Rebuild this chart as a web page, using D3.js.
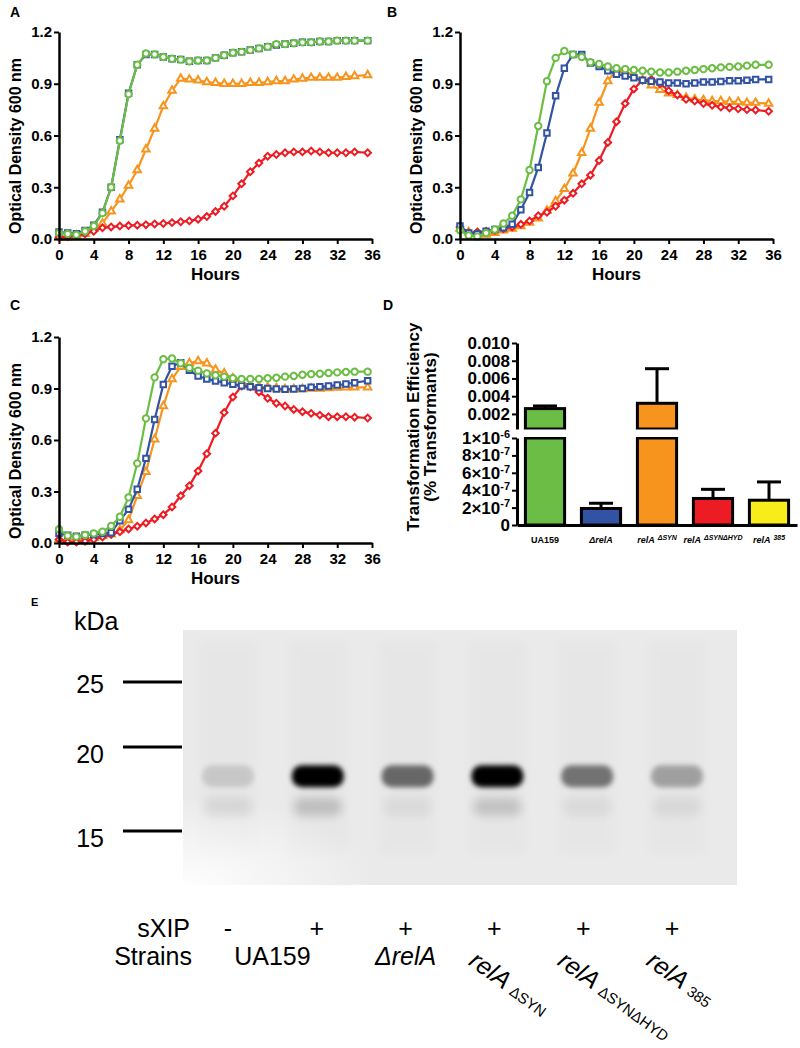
<!DOCTYPE html>
<html>
<head>
<meta charset="utf-8">
<script src="https://cdn.jsdelivr.net/npm/d3@7"></script>
<style>
  body { margin: 0; background: #fff; }
  svg { display: block; }
</style>
</head>
<body>
<svg id="fig" width="800" height="1048"></svg>
<script>
// ---------- data ----------
const hours = [0,1,2,3,4,5,6,7,8,9,10,11,12,13,14,15,16,17,18,19,20,21,22,23,24,25,26,27,28,29,30,31,32,33,34,35.5];
const hourTicks = [0,4,8,12,16,20,24,28,32,36];
const odTicks = [0,0.3,0.6,0.9,1.2];

// panel A
const odA_UA159 = [0.035,0.03,0.025,0.045,0.075,0.15,0.30,0.57,0.84,1.01,1.075,1.07,1.055,1.045,1.04,1.03,1.035,1.035,1.05,1.065,1.08,1.085,1.095,1.105,1.115,1.13,1.13,1.135,1.14,1.14,1.145,1.145,1.15,1.15,1.15,1.15];
const odA_relA = [0.04,0.035,0.03,0.05,0.08,0.155,0.30,0.575,0.845,1.01,1.07,1.07,1.055,1.045,1.04,1.03,1.035,1.035,1.05,1.065,1.08,1.085,1.095,1.105,1.115,1.125,1.13,1.135,1.14,1.14,1.145,1.145,1.15,1.15,1.15,1.15];
const odA_SYN = [0.01,0.01,0.02,0.03,0.06,0.09,0.16,0.23,0.31,0.40,0.52,0.64,0.77,0.86,0.93,0.925,0.92,0.91,0.905,0.90,0.90,0.90,0.905,0.905,0.91,0.915,0.915,0.925,0.93,0.935,0.935,0.935,0.935,0.94,0.945,0.95];
const odA_SYNHYD = [0.01,0.015,0.02,0.03,0.045,0.065,0.07,0.075,0.078,0.08,0.083,0.087,0.09,0.095,0.10,0.105,0.115,0.13,0.16,0.19,0.25,0.32,0.39,0.44,0.48,0.49,0.50,0.505,0.505,0.51,0.505,0.50,0.50,0.50,0.505,0.50];

// panel B
const odB_UA159 = [0.05,0.02,0.015,0.035,0.055,0.09,0.135,0.23,0.40,0.655,0.915,1.05,1.09,1.07,1.055,1.025,1.015,1.00,0.99,0.985,0.98,0.975,0.97,0.965,0.965,0.97,0.975,0.98,0.985,0.99,0.995,0.998,1.00,1.005,1.01,1.01];
const odB_relA = [0.075,0.035,0.03,0.045,0.055,0.065,0.085,0.17,0.27,0.415,0.615,0.83,0.99,1.07,1.07,1.02,1.00,0.975,0.955,0.945,0.935,0.92,0.915,0.91,0.905,0.905,0.90,0.905,0.91,0.91,0.913,0.917,0.918,0.92,0.925,0.925];
const odB_SYN = [0.06,0.04,0.03,0.025,0.035,0.05,0.06,0.075,0.095,0.12,0.165,0.22,0.29,0.38,0.50,0.64,0.79,0.915,0.98,0.97,0.95,0.92,0.89,0.865,0.845,0.835,0.82,0.81,0.805,0.80,0.80,0.795,0.795,0.79,0.79,0.785];
const odB_SYNHYD = [0.07,0.035,0.04,0.045,0.05,0.06,0.07,0.085,0.105,0.135,0.155,0.19,0.225,0.265,0.32,0.37,0.455,0.56,0.68,0.785,0.87,0.92,0.925,0.90,0.86,0.835,0.81,0.80,0.785,0.775,0.765,0.76,0.755,0.75,0.748,0.74];

// panel C
const odC_UA159 = [0.08,0.043,0.037,0.047,0.056,0.066,0.099,0.153,0.266,0.464,0.726,0.965,1.07,1.075,1.047,1.02,1.004,0.988,0.977,0.969,0.96,0.955,0.955,0.955,0.96,0.963,0.969,0.973,0.98,0.984,0.986,0.99,0.994,0.996,0.998,0.998];
const odC_relA = [0.056,0.045,0.04,0.045,0.05,0.055,0.06,0.13,0.196,0.313,0.493,0.72,0.923,1.03,1.05,1.006,0.973,0.955,0.944,0.934,0.924,0.916,0.91,0.905,0.90,0.897,0.895,0.897,0.90,0.907,0.91,0.914,0.92,0.926,0.934,0.945];
const odC_SYN = [0.02,0.015,0.02,0.025,0.03,0.04,0.05,0.075,0.134,0.275,0.415,0.604,0.798,0.955,1.026,1.048,1.06,1.047,1.01,0.988,0.96,0.934,0.92,0.91,0.907,0.903,0.897,0.897,0.897,0.90,0.90,0.903,0.905,0.907,0.907,0.907];
const odC_SYNHYD = [0.02,0.005,0.005,0.01,0.02,0.035,0.05,0.065,0.082,0.098,0.117,0.14,0.165,0.21,0.275,0.334,0.42,0.52,0.64,0.76,0.85,0.914,0.91,0.88,0.843,0.814,0.798,0.778,0.765,0.755,0.745,0.736,0.736,0.736,0.733,0.728];

// panel D
const barKeys = ["UA159", "ΔrelA", "relA ΔSYN", "relA ΔSYNΔHYD", "relA 385"];
const barNames = ["UA159", "ΔrelA", "relA", "relA", "relA"];
const barSups = ["", "", "ΔSYN", "ΔSYNΔHYD", "385"];
const barValues = [0.0026, 1.9e-7, 0.0032, 3.05e-7, 2.85e-7];
const barErrors = [0.0003, 0.6e-7, 0.0039, 1.05e-7, 2.1e-7];
const upperTicks = [0.002, 0.004, 0.006, 0.008, 0.010];
const lowerTicks = [0, 2e-7, 4e-7, 6e-7, 8e-7, 1e-6];

// panel E
const laneIdx = [0, 1, 2, 3, 4, 5];
const sxipSigns = ["-", "+", "+", "+", "+", "+"];
const bandMain = [0.13, 1.0, 0.55, 1.0, 0.5, 0.3];
const bandLower = [0.07, 0.17, 0.05, 0.15, 0.05, 0.06];
const markerKda = [25, 20, 15];
const strainNames = ["UA159", "ΔrelA", "relA", "relA", "relA"];
const strainSubs = ["", "", "ΔSYN", "ΔSYNΔHYD", "385"];
const strainPos = [0.5, 2, 3, 4, 5];

// ---------- helpers ----------
const FONT = '"Liberation Sans", Arial, Helvetica, sans-serif';
const COLORS = { green: "#6cbd45", blue: "#3253a4", orange: "#f7941d", red: "#ed1c24", yellow: "#f8ec1a" };

const svg = d3.select("#fig").attr("font-family", FONT);

const styleAxis = (g, size, domainWidth) => {
  g.attr("font-family", FONT).attr("font-size", size).attr("font-weight", "bold");
  g.select(".domain").attr("stroke-width", domainWidth);
  g.selectAll(".tick line").attr("stroke-width", 2);
  g.selectAll(".tick text").attr("fill", "#000");
};

const panelLetter = (txt, x, y, size) => {
  svg.append("text").attr("x", x).attr("y", y)
    .attr("font-size", size).attr("font-weight", "bold").text(txt);
};

const drawGrowthPanel = (frame, series) => {
  const x = d3.scaleLinear().domain([0, 36]).range([frame.left, frame.right]);
  const y = d3.scaleLinear().domain([0, 1.2]).range([frame.bottom, frame.top]);
  const g = svg.append("g");
  const line = d3.line().x((d, i) => x(hours[i])).y((d) => y(d));

  for (const s of series) {
    const sg = g.append("g");
    sg.append("path")
      .datum(s.values)
      .attr("d", line)
      .attr("fill", "none")
      .attr("stroke", s.color)
      .attr("stroke-width", 2.2)
      .attr("stroke-linejoin", "round");
    sg.selectAll("path.pt")
      .data(s.values)
      .enter()
      .append("path")
      .attr("class", "pt")
      .attr("transform", (d, i) => `translate(${x(hours[i])},${y(d)}) rotate(${s.rotate || 0})`)
      .attr("d", d3.symbol().type(s.symbol).size(s.size))
      .attr("fill", "#fff")
      .attr("stroke", s.color)
      .attr("stroke-width", 2);
  }

  const xAxis = g.append("g")
    .attr("transform", `translate(0,${frame.bottom})`)
    .call(d3.axisBottom(x).tickValues(hourTicks).tickSize(5).tickSizeOuter(0).tickPadding(5));
  styleAxis(xAxis, 15, 2.5);

  const yAxis = g.append("g")
    .attr("transform", `translate(${frame.left},0)`)
    .call(d3.axisLeft(y).tickValues(odTicks).tickFormat(d3.format(".1f")).tickSize(5).tickSizeOuter(0).tickPadding(2));
  styleAxis(yAxis, 15, 2.5);

  g.append("text")
    .attr("x", (frame.left + frame.right) / 2)
    .attr("y", frame.bottom + 41)
    .attr("text-anchor", "middle")
    .attr("font-size", 17).attr("font-weight", "bold")
    .text("Hours");

  g.append("text")
    .attr("transform", `translate(${frame.left - 44},${frame.top + 114}) rotate(-90)`)
    .attr("text-anchor", "middle")
    .attr("dy", "0.35em")
    .attr("font-size", 16).attr("font-weight", "bold")
    .text("Optical Density 600 nm");
};

const makeSeries = (uaVals, relVals, synVals, hydVals) => [
  { values: synVals, color: COLORS.orange, symbol: d3.symbolTriangle, size: 24 },
  { values: hydVals, color: COLORS.red, symbol: d3.symbolSquare, size: 22, rotate: 45 },
  { values: relVals, color: COLORS.blue, symbol: d3.symbolSquare, size: 30 },
  { values: uaVals, color: COLORS.green, symbol: d3.symbolCircle, size: 32 },
];

// ---------- panels A, B, C ----------
panelLetter("A", 10, 17, 14);
panelLetter("B", 387, 17, 14);
panelLetter("C", 10, 310, 14);
panelLetter("D", 383, 310, 14);
panelLetter("E", 31, 606, 11);

drawGrowthPanel({ left: 59, right: 372, top: 32, bottom: 239 },
  makeSeries(odA_UA159, odA_relA, odA_SYN, odA_SYNHYD));
drawGrowthPanel({ left: 460, right: 773, top: 32, bottom: 239 },
  makeSeries(odB_UA159, odB_relA, odB_SYN, odB_SYNHYD));
drawGrowthPanel({ left: 59, right: 372, top: 337, bottom: 543 },
  makeSeries(odC_UA159, odC_relA, odC_SYN, odC_SYNHYD));

// ---------- panel D ----------
const dLeft = 517, dRight = 797;
const breakValue = 1e-6;
const yUp = d3.scaleLinear().domain([0.0003, 0.010]).range([429, 343]);
const yLo = d3.scaleLinear().domain([0, breakValue]).range([525, 438]);
const bx = d3.scaleBand().domain(barKeys).range([dLeft, dRight]).paddingInner(0.3).paddingOuter(0.15);
const barColors = [COLORS.green, COLORS.blue, COLORS.orange, COLORS.red, COLORS.yellow];

const bars = barKeys.map((k, i) => ({
  key: k, value: barValues[i], err: barErrors[i], color: barColors[i],
  upper: barValues[i] > breakValue,
}));
const dG = svg.append("g");

// error bars (upper only)
const errG = dG.selectAll("g.err").data(bars).enter().append("g").attr("class", "err");
const errY = (d, v) => (d.upper ? yUp(v) : yLo(v));
errG.append("line")
  .attr("x1", (d) => bx(d.key) + bx.bandwidth() / 2)
  .attr("x2", (d) => bx(d.key) + bx.bandwidth() / 2)
  .attr("y1", (d) => errY(d, d.value))
  .attr("y2", (d) => errY(d, d.value + d.err))
  .attr("stroke", "#000").attr("stroke-width", 3);
errG.append("line")
  .attr("x1", (d) => bx(d.key) + bx.bandwidth() / 2 - 12)
  .attr("x2", (d) => bx(d.key) + bx.bandwidth() / 2 + 12)
  .attr("y1", (d) => errY(d, d.value + d.err))
  .attr("y2", (d) => errY(d, d.value + d.err))
  .attr("stroke", "#000").attr("stroke-width", 3);

// lower segment of every bar
dG.selectAll("rect.lo").data(bars).enter().append("rect").attr("class", "lo")
  .attr("x", (d) => bx(d.key))
  .attr("width", bx.bandwidth())
  .attr("y", (d) => yLo(Math.min(d.value, breakValue)))
  .attr("height", (d) => yLo(0) - yLo(Math.min(d.value, breakValue)))
  .attr("fill", (d) => d.color)
  .attr("stroke", "#000").attr("stroke-width", 3);

// upper segment for the bars that cross the break
dG.selectAll("rect.up").data(bars.filter((d) => d.upper)).enter().append("rect").attr("class", "up")
  .attr("x", (d) => bx(d.key))
  .attr("width", bx.bandwidth())
  .attr("y", (d) => yUp(d.value))
  .attr("height", (d) => yUp.range()[0] - yUp(d.value))
  .attr("fill", (d) => d.color)
  .attr("stroke", "#000").attr("stroke-width", 3);

// break gap
dG.append("rect")
  .attr("x", dLeft - 12).attr("width", dRight - dLeft + 12)
  .attr("y", yUp.range()[0] + 0.5).attr("height", yLo(breakValue) - yUp.range()[0] - 1.5)
  .attr("fill", "#fff");

const upAxis = dG.append("g").attr("transform", `translate(${dLeft},0)`)
  .call(d3.axisLeft(yUp).tickValues(upperTicks).tickFormat(d3.format(".3f")).tickSize(5).tickSizeOuter(0).tickPadding(2));
styleAxis(upAxis, 17, 3);

const loAxis = dG.append("g").attr("transform", `translate(${dLeft},0)`)
  .call(d3.axisLeft(yLo).tickValues(lowerTicks).tickSize(5).tickSizeOuter(0).tickPadding(2));
styleAxis(loAxis, 17, 3);
loAxis.selectAll(".tick text").each(function (d) {
  const t = d3.select(this).text(null);
  if (d === 0) { t.text("0"); return; }
  const exp = Math.floor(Math.log10(d) + 1e-9);
  const mant = Math.round(d / Math.pow(10, exp));
  t.append("tspan").text(`${mant}×10`);
  t.append("tspan").attr("font-size", 11).attr("dy", "-0.55em").text(`-${-exp}`);
});

const xbAxis = dG.append("g").attr("transform", `translate(0,${yLo(0)})`)
  .call(d3.axisBottom(bx).tickSize(0).tickPadding(12));
styleAxis(xbAxis, 9, 3);
xbAxis.selectAll(".tick text").each(function (d, i) {
  const t = d3.select(this).text(null);
  const name = barNames[i];
  t.append("tspan").attr("font-style", name.includes("relA") ? "italic" : "normal").text(name);
  if (barSups[i]) {
    t.append("tspan").attr("font-style", "italic").attr("font-size", 7)
      .attr("dx", 3).attr("dy", "-0.5em").text(barSups[i]);
  }
});

dG.append("text")
  .attr("transform", "translate(419,427) rotate(-90)")
  .attr("text-anchor", "middle").attr("font-size", 17).attr("font-weight", "bold")
  .text("Transformation Efficiency");
dG.append("text")
  .attr("transform", "translate(436,427) rotate(-90)")
  .attr("text-anchor", "middle").attr("font-size", 17).attr("font-weight", "bold")
  .text("(% Transformants)");

// ---------- panel E (western blot) ----------
const blot = { left: 183, right: 737, top: 630, bottom: 885 };
const laneX = d3.scaleLinear().domain([0, 5]).range([228, 677]);
const labelX = d3.scaleLinear().domain([0, 5]).range([228, 672]);
const kda = d3.scaleLog().domain([15, 25]).range([831, 682]);

const defs = svg.append("defs");
defs.append("filter").attr("id", "blurBand").attr("x", "-50%").attr("y", "-80%").attr("width", "200%").attr("height", "260%")
  .append("feGaussianBlur").attr("stdDeviation", 2.6);
defs.append("filter").attr("id", "blurSoft").attr("x", "-50%").attr("y", "-80%").attr("width", "200%").attr("height", "260%")
  .append("feGaussianBlur").attr("stdDeviation", 5);
const rg = defs.append("radialGradient").attr("id", "fadeCorner")
  .attr("cx", 0).attr("cy", 1).attr("r", 0.35);
rg.append("stop").attr("offset", "0%").attr("stop-color", "#fff").attr("stop-opacity", 0.95);
rg.append("stop").attr("offset", "100%").attr("stop-color", "#fff").attr("stop-opacity", 0);

const eG = svg.append("g");
eG.append("rect")
  .attr("x", blot.left).attr("y", blot.top)
  .attr("width", blot.right - blot.left).attr("height", blot.bottom - blot.top)
  .attr("fill", "#eaeaea");

// faint lane smears
eG.selectAll("rect.smear").data(laneIdx).enter().append("rect").attr("class", "smear")
  .attr("x", (d) => laneX(d) - 30).attr("width", 60)
  .attr("y", blot.top + 10).attr("height", blot.bottom - blot.top - 40)
  .attr("fill", "#000").attr("opacity", 0.012)
  .attr("filter", "url(#blurSoft)");

eG.append("rect")
  .attr("x", blot.left).attr("y", blot.top)
  .attr("width", blot.right - blot.left).attr("height", blot.bottom - blot.top)
  .attr("fill", "url(#fadeCorner)");

// lower faint bands
eG.selectAll("rect.lower").data(laneIdx).enter().append("rect").attr("class", "lower")
  .attr("x", (d) => laneX(d) - 24).attr("width", 48)
  .attr("y", kda(16.3) - 9).attr("height", 18).attr("rx", 8)
  .attr("fill", "#000").attr("opacity", (d) => bandLower[d])
  .attr("filter", "url(#blurSoft)");

// main bands
eG.selectAll("rect.band").data(laneIdx).enter().append("rect").attr("class", "band")
  .attr("x", (d) => laneX(d) - 26).attr("width", 52)
  .attr("y", kda(18.1) - 11).attr("height", 22).attr("rx", 10)
  .attr("fill", "#000").attr("opacity", (d) => bandMain[d])
  .attr("filter", "url(#blurBand)");

// molecular weight markers
eG.selectAll("line.marker").data(markerKda).enter().append("line").attr("class", "marker")
  .attr("x1", 123).attr("x2", blot.left - 1)
  .attr("y1", (d) => kda(d)).attr("y2", (d) => kda(d))
  .attr("stroke", "#000").attr("stroke-width", 3);
eG.selectAll("text.marker").data(markerKda).enter().append("text").attr("class", "marker")
  .attr("x", 104).attr("y", (d) => kda(d) + (d === 25 ? 11 : 16))
  .attr("text-anchor", "end").attr("font-size", 25)
  .text((d) => d);
eG.append("text").attr("x", 74).attr("y", 630).attr("font-size", 25).text("kDa");

// sXIP row
eG.append("text").attr("x", 190).attr("y", 937).attr("text-anchor", "end").attr("font-size", 25).text("sXIP");
eG.selectAll("text.sign").data(laneIdx).enter().append("text").attr("class", "sign")
  .attr("x", (d) => labelX(d)).attr("y", 937)
  .attr("text-anchor", "middle").attr("font-size", 25)
  .text((d) => sxipSigns[d]);

// strains row
eG.append("text").attr("x", 192).attr("y", 965).attr("text-anchor", "end").attr("font-size", 25).text("Strains");
strainNames.forEach((name, i) => {
  if (!strainSubs[i]) {
    eG.append("text")
      .attr("x", labelX(strainPos[i])).attr("y", 965)
      .attr("text-anchor", "middle").attr("font-size", 25)
      .attr("font-style", name.includes("relA") ? "italic" : "normal")
      .text(name);
  } else {
    const t = eG.append("text")
      .attr("transform", `translate(${labelX(strainPos[i]) - 27},964) rotate(36)`)
      .attr("font-size", 25);
    t.append("tspan").attr("font-style", "italic").text(name);
    t.append("tspan").attr("font-size", 15).attr("dx", 6).text(strainSubs[i]);
  }
});
</script>
</body>
</html>
